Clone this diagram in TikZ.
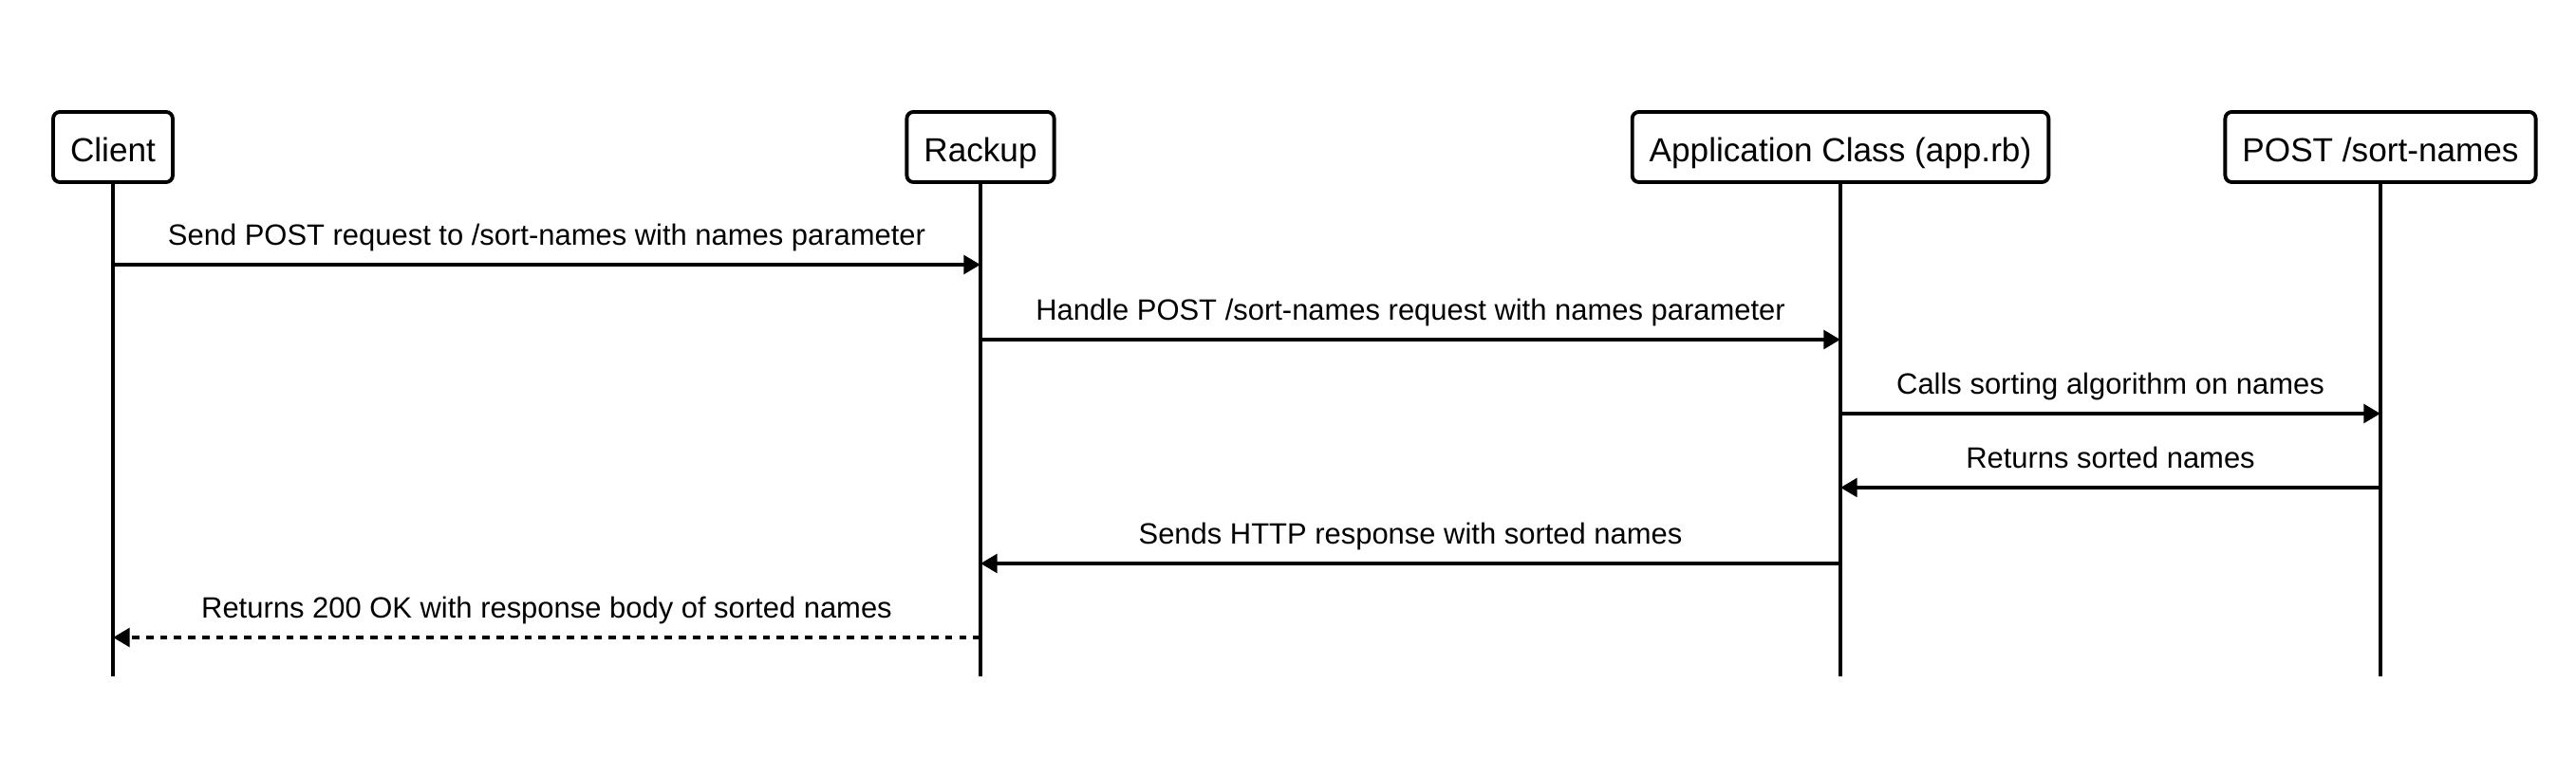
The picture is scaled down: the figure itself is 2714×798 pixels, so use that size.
\documentclass[tikz,border=0pt]{standalone}
\usepackage{fontspec}
\setmainfont{Liberation Sans}
\usetikzlibrary{arrows.meta}

\begin{document}
\begin{tikzpicture}[x=0.01cm,y=-0.01cm,
		actor/.style={draw,line width=1.1pt,rounded corners=2pt,minimum height=0.74cm,inner xsep=0.18cm,text height=0.9em,text depth=0.02em,font=\fontsize{10}{12}\selectfont},
		life/.style={line width=1pt},
		msg/.style={line width=1.2pt,-{Triangle[length=5pt,width=5.5pt]}},
		reply/.style={msg,dash pattern=on 2.2pt off 2pt},
		lbl/.style={midway,anchor=base,yshift=0.2cm,font=\fontsize{8.8}{10}\selectfont}]
		\useasboundingbox (0,0) rectangle (2714,798);
		\node [actor] (client) at (119,155) {Client};
		\node [actor] (rackup) at (1033,155) {Rackup};
		\node [actor] (app) at (1939,155) {Application Class (app.rb)};
		\node [actor] (route) at (2508,155) {POST /sort-names};
		\coordinate (bottom) at (0,713);
		\foreach \p in {client,rackup,app,route}
			\draw [life] (\p.south) -- (\p |- bottom);
		\coordinate (r1) at (0,279);
		\coordinate (r2) at (0,358);
		\coordinate (r3) at (0,436);
		\coordinate (r4) at (0,514);
		\coordinate (r5) at (0,594);
		\coordinate (r6) at (0,672);
		\draw [msg] (client |- r1) -- node [lbl] {Send POST request to /sort-names with names parameter} (rackup |- r1);
		\draw [msg] (rackup |- r2) -- node [lbl] {Handle POST /sort-names request with names parameter} (app |- r2);
		\draw [msg] (app |- r3) -- node [lbl] {Calls sorting algorithm on names} (route |- r3);
		\draw [msg] (route |- r4) -- node [lbl] {Returns sorted names} (app |- r4);
		\draw [msg] (app |- r5) -- node [lbl] {Sends HTTP response with sorted names} (rackup |- r5);
		\draw [reply] (rackup |- r6) -- node [lbl] {Returns 200 OK with response body of sorted names} (client |- r6);
	\end{tikzpicture}
\end{document}
